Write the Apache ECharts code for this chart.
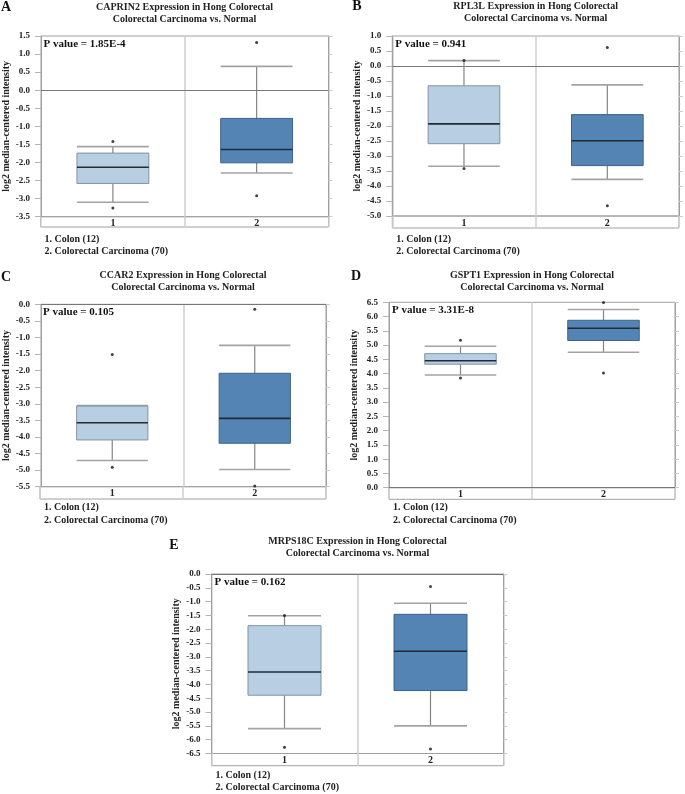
<!DOCTYPE html>
<html>
<head>
    <meta charset="utf-8">
    <title>Hong Colorectal box plots</title>
    <script src="https://cdn.jsdelivr.net/npm/echarts@6/dist/echarts.min.js"></script>
    <style>
        html, body { margin: 0; padding: 0; background: #fff; }
    </style>
</head>
<body>
<div id="main" style="width: 685px;height:794px;"></div>
<script type="text/javascript">
    // categories and footnote
    var categories = ['1', '2'];
    var groupLabels = ['1. Colon (12)', '2. Colorectal Carcinoma (70)'];

    var panelLetters = ['A', 'B', 'C', 'D', 'E'];
    var geneNames = ['CAPRIN2', 'RPL3L', 'CCAR2', 'GSPT1', 'MRPS18C'];
    var pValues = ['1.85E-4', '0.941', '0.105', '3.31E-8', '0.162'];
    var yMins = [-3.5, -5.0, -5.5, 0.0, -6.5];
    var yMaxs = [1.5, 1.0, 0.0, 6.5, 0.0];

    // [category, lower whisker, Q1, median, Q3, upper whisker]
    var caprin2Box = [[0, -3.10, -2.58, -2.13, -1.74, -1.56], [1, -2.29, -2.01, -1.64, -0.78, 0.66]];
    var rpl3lBox   = [[0, -3.34, -2.59, -1.93, -0.66, 0.18], [1, -3.78, -3.32, -2.49, -1.62, -0.63]];
    var ccar2Box   = [[0, -4.71, -4.09, -3.57, -3.07, -3.05], [1, -4.98, -4.19, -3.44, -2.08, -1.24]];
    var gspt1Box   = [[0, 3.95, 4.33, 4.45, 4.70, 4.96], [1, 4.75, 5.16, 5.59, 5.87, 6.25]];
    var mrps18cBox = [[0, -5.60, -4.39, -3.55, -1.87, -1.51], [1, -5.50, -4.22, -2.80, -1.46, -1.06]];

    // outlier points [category, value]
    var caprin2Out = [[0, -1.42], [0, -3.26], [1, 1.32], [1, -2.92]];
    var rpl3lOut   = [[0, 0.18], [0, -3.42], [1, 0.62], [1, -4.66]];
    var ccar2Out   = [[0, -1.51], [0, -4.91], [1, -0.15], [1, -5.48]];
    var gspt1Out   = [[0, 5.17], [0, 3.85], [1, 6.49], [1, 4.02]];
    var mrps18cOut = [[0, -1.50], [0, -6.27], [1, -0.45], [1, -6.34]];

    var panelBoxes = [caprin2Box, rpl3lBox, ccar2Box, gspt1Box, mrps18cBox];
    var panelOutliers = [caprin2Out, rpl3lOut, ccar2Out, gspt1Out, mrps18cOut];

    // page layout (pixels): plot frame of each panel, title line 1 y, footnote line 1 y
    var frames = [
        {l: 40.5, r: 328.5, t: 36, b: 216.7, band: 227, titleY: 7, noteY: 239, letter: [6, 7]},
        {l: 392.3, r: 679, t: 36, b: 216, band: 228, titleY: 6, noteY: 239, letter: [357, 6]},
        {l: 40, r: 326, t: 304.3, b: 486.7, band: 499, titleY: 275, noteY: 507.5, letter: [6, 277]},
        {l: 389, r: 675, t: 302.3, b: 487.7, band: 499.3, titleY: 275, noteY: 507.5, letter: [356, 276]},
        {l: 211.5, r: 503.5, t: 574, b: 753.5, band: 765.7, titleY: 541, noteY: 775, letter: [174, 545]}
    ];

    var FONT = '"Liberation Serif", "Times New Roman", serif';
    var boxFill = ['#b8cee3', '#5484b4'];
    var boxStroke = ['#8193a6', '#3d6288'];

    function renderBox(params, api) {
        var i = api.value(0);
        var pLo = api.coord([i, api.value(1)]);
        var pQ1 = api.coord([i, api.value(2)]);
        var pMed = api.coord([i, api.value(3)]);
        var pQ3 = api.coord([i, api.value(4)]);
        var pHi = api.coord([i, api.value(5)]);
        var half = api.size([1, 0])[0] * 0.25;
        var cx = pMed[0];
        var stem = {stroke: '#858585', lineWidth: 1.2};
        var cap = {stroke: '#a3a3a3', lineWidth: 1.6};
        return {
            type: 'group',
            children: [
                {type: 'line', shape: {x1: cx, y1: pHi[1], x2: cx, y2: pQ3[1]}, style: stem},
                {type: 'line', shape: {x1: cx, y1: pQ1[1], x2: cx, y2: pLo[1]}, style: stem},
                {type: 'line', shape: {x1: cx - half, y1: pHi[1], x2: cx + half, y2: pHi[1]}, style: cap},
                {type: 'line', shape: {x1: cx - half, y1: pLo[1], x2: cx + half, y2: pLo[1]}, style: cap},
                {type: 'rect', shape: {x: cx - half, y: pQ3[1], width: half * 2, height: pQ1[1] - pQ3[1]},
                    style: {fill: boxFill[i], stroke: boxStroke[i], lineWidth: 1}},
                {type: 'line', shape: {x1: cx - half, y1: pMed[1], x2: cx + half, y2: pMed[1]},
                    style: {stroke: '#1f2b37', lineWidth: 1.6}}
            ]
        };
    }

    var option = {
        animation: false,
        backgroundColor: '#fff',
        grid: [], xAxis: [], yAxis: [], series: [], graphic: []
    };

    for (var p = 0; p < frames.length; p++) {
        var f = frames[p];
        var g = p * 2;
        // value area
        option.grid.push({left: f.l, top: f.t, width: f.r - f.l, height: f.b - f.t,
            show: true, borderColor: '#a0a0a0', borderWidth: 1});
        // label band under it
        option.grid.push({left: f.l, top: f.b, width: f.r - f.l, height: f.band - f.b,
            show: true, borderColor: '#a0a0a0', borderWidth: 1});

        option.xAxis.push({
            type: 'category', gridIndex: g, data: categories,
            axisLine: {show: true, lineStyle: {color: '#bdbdbd'}},
            axisTick: {show: false},
            axisLabel: {margin: 2, fontFamily: FONT, fontWeight: 'bold', fontSize: 10, color: '#222'},
            splitLine: {show: true, interval: 0, lineStyle: {color: '#cfcfcf', width: 1.5}}
        });
        option.xAxis.push({
            type: 'category', gridIndex: g + 1, data: categories,
            axisLine: {show: false}, axisTick: {show: false}, axisLabel: {show: false},
            splitLine: {show: true, interval: 0, lineStyle: {color: '#cfcfcf', width: 1.5}}
        });

        option.yAxis.push({
            type: 'value', gridIndex: g, min: yMins[p], max: yMaxs[p], interval: 0.5,
            name: 'log2 median-centered intensity', nameLocation: 'middle', nameGap: 30,
            nameTextStyle: {fontFamily: FONT, fontWeight: 'bold', fontSize: 10, color: '#222'},
            axisLine: {show: true, lineStyle: {color: '#a0a0a0'}},
            axisTick: {show: true, length: 6, lineStyle: {color: '#b5b5b5'}},
            axisLabel: {margin: 11, fontFamily: FONT, fontWeight: 'bold', fontSize: 9, color: '#222',
                formatter: function (v) { return v.toFixed(1); }},
            splitLine: {show: false}
        });
        option.yAxis.push({
            type: 'value', gridIndex: g, position: 'right', min: yMins[p], max: yMaxs[p], interval: 0.5,
            axisLine: {show: true, lineStyle: {color: '#a0a0a0'}},
            axisTick: {show: true, length: 4, lineStyle: {color: '#cccccc'}},
            axisLabel: {show: false}, splitLine: {show: false}
        });
        option.yAxis.push({type: 'value', gridIndex: g + 1, show: false, min: 0, max: 1});

        option.series.push({
            type: 'custom', xAxisIndex: g, yAxisIndex: p * 3,
            renderItem: renderBox, encode: {x: 0, y: [1, 2, 3, 4, 5]},
            data: panelBoxes[p], silent: true
        });
        option.series.push({
            type: 'scatter', xAxisIndex: g, yAxisIndex: p * 3,
            symbolSize: 3, itemStyle: {color: '#111'},
            data: panelOutliers[p], silent: true,
            markLine: {silent: true, symbol: 'none', label: {show: false},
                lineStyle: {color: '#777', type: 'solid', width: 1}, data: [{yAxis: 0}]}
        });

        var cx = (f.l + f.r) / 2;
        option.graphic.push({type: 'text', x: cx, y: f.titleY - 6, silent: true, style: {
            text: geneNames[p] + ' Expression in Hong Colorectal\nColorectal Carcinoma vs. Normal',
            font: 'bold 10px ' + FONT, align: 'center', verticalAlign: 'top', lineHeight: 12.5, fill: '#222'}});
        option.graphic.push({type: 'text', x: f.letter[0], y: f.letter[1], silent: true, style: {
            text: panelLetters[p], font: 'bold 14px ' + FONT, align: 'center', verticalAlign: 'middle', fill: '#111'}});
        option.graphic.push({type: 'text', x: f.l + 3, y: f.t + 8, silent: true, style: {
            text: 'P value = ' + pValues[p], font: 'bold 11px ' + FONT, align: 'left', verticalAlign: 'middle', fill: '#111'}});
        option.graphic.push({type: 'text', x: f.l + 4, y: f.noteY - 6, silent: true, style: {
            text: groupLabels.join('\n'), font: 'bold 10px ' + FONT, align: 'left', verticalAlign: 'top',
            lineHeight: 12.5, fill: '#222'}});
    }

    var myChart = echarts.init(document.getElementById('main'));
    myChart.setOption(option);
</script>
</body>
</html>
